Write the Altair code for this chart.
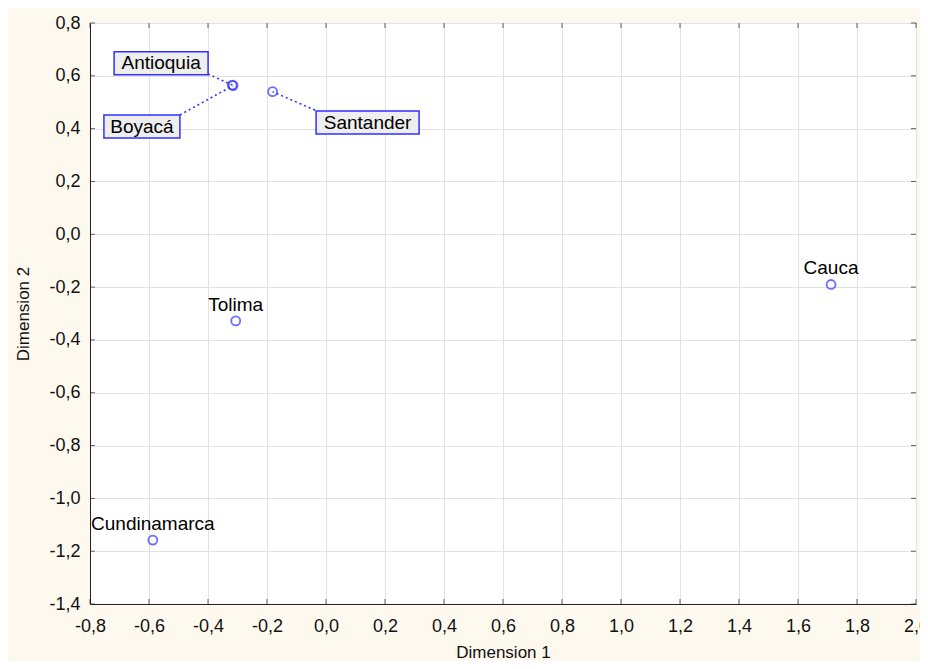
import altair as alt
import pandas as pd

# Points
names = ["Antioquia", "Boyacá", "Santander", "Tolima", "Cundinamarca", "Cauca"]
dim1 = [-0.318, -0.315, -0.181, -0.306, -0.587, 1.712]
dim2 = [0.565, 0.563, 0.540, -0.328, -1.158, -0.190]

# Plain labels (placed above their point)
plain_names = ["Tolima", "Cundinamarca", "Cauca"]

# Boxed labels with leader lines
box_names = ["Antioquia", "Boyacá", "Santander"]
box_x = [-0.559, -0.624, 0.141]
box_y = [0.648, 0.408, 0.423]
lead_x = [-0.400, -0.495, -0.037]
lead_y = [0.607, 0.452, 0.470]

x_ticks = [-0.8, -0.6, -0.4, -0.2, 0.0, 0.2, 0.4, 0.6, 0.8, 1.0, 1.2, 1.4, 1.6, 1.8, 2.0]
y_ticks = [-1.4, -1.2, -1.0, -0.8, -0.6, -0.4, -0.2, 0.0, 0.2, 0.4, 0.6, 0.8]

W, H = 826, 581
FONT = "Liberation Sans"
BLUE = "#3030ff"

pts = pd.DataFrame({"name": names, "d1": dim1, "d2": dim2})
plain = pts[pts["name"].isin(plain_names)]
boxes = pd.DataFrame({"name": box_names, "bx": box_x, "by": box_y, "lx": lead_x, "ly": lead_y})
boxes = boxes.merge(pts, on="name")
xt = pd.DataFrame({"v": x_ticks})
yt = pd.DataFrame({"v": y_ticks})

lab = "(datum.value < 0 ? '-' : '') + replace(format(abs(datum.value), '.1f'), '.', ',')"

xs = alt.Scale(domain=[-0.8, 2.0], nice=False, zero=False)
ys = alt.Scale(domain=[-1.4, 0.8], nice=False, zero=False)

x_axis = alt.Axis(values=x_ticks, labelExpr=lab, tickSize=0, labelPadding=13,
                  titlePadding=9, labelFontSize=18, titleFontSize=17,
                  labelFont=FONT, titleFont=FONT, titleFontWeight="normal",
                  labelColor="#111", titleColor="#111", gridColor="#e2e2e2",
                  domainColor="#222", labelFlush=False)
y_axis = alt.Axis(values=y_ticks, labelExpr=lab, tickSize=0, labelPadding=10,
                  titlePadding=16, labelFontSize=18, titleFontSize=17,
                  labelFont=FONT, titleFont=FONT, titleFontWeight="normal",
                  labelColor="#111", titleColor="#111", gridColor="#e2e2e2",
                  domainColor="#222", labelFlush=False)


def X(f):
    return alt.X(f + ":Q", scale=xs, axis=x_axis, title="Dimension 1")


def Y(f):
    return alt.Y(f + ":Q", scale=ys, axis=y_axis, title="Dimension 2")


points = alt.Chart(pts).mark_point(shape="circle", size=80, color=BLUE, strokeWidth=1.8,
                                   filled=False).encode(x=X("d1"), y=Y("d2"))

plain_text = alt.Chart(plain).mark_text(font=FONT, fontSize=19, dy=-16, color="#000").encode(
    x=X("d1"), y=Y("d2"), text="name:N")

leaders = alt.Chart(boxes).mark_rule(color=BLUE, strokeDash=[2, 3], strokeWidth=1.6).encode(
    x=X("lx"), y=Y("ly"), x2="d1:Q", y2="d2:Q")

box_w = {"Antioquia": 94, "Boyacá": 76, "Santander": 103}
rects = []
for nm in box_names:
    rects.append(alt.Chart(boxes).transform_filter(alt.datum.name == nm).mark_rect(
        width=box_w[nm], height=23, fill="#eeeeee", stroke=BLUE, strokeWidth=1.5).encode(
        x=X("bx"), y=Y("by")))

box_text = alt.Chart(boxes).mark_text(font=FONT, fontSize=19, color="#000").encode(
    x=X("bx"), y=Y("by"), text="name:N")

tk = dict(color="#222", thickness=1, size=5)
bt = alt.Chart(xt).mark_tick(**tk).encode(x=X("v"), y=alt.value(H - 2.5))
tt = alt.Chart(xt).mark_tick(**tk).encode(x=X("v"), y=alt.value(2.5))
lt = alt.Chart(yt).mark_tick(**tk).encode(y=Y("v"), x=alt.value(2.5))
rt = alt.Chart(yt).mark_tick(**tk).encode(y=Y("v"), x=alt.value(W - 2.5))

chart = alt.layer(points, leaders, *rects, box_text, plain_text, bt, tt, lt, rt).properties(
    width=W, height=H,
    autosize=alt.AutoSizeParams(type="none"),
    padding={"left": 82, "top": 15, "right": 4, "bottom": 57},
    background="#fef9ef",
).configure_view(fill="white", stroke="#222", strokeWidth=1)

chart.save("out.html", embed_options={"renderer": "svg", "actions": False})
